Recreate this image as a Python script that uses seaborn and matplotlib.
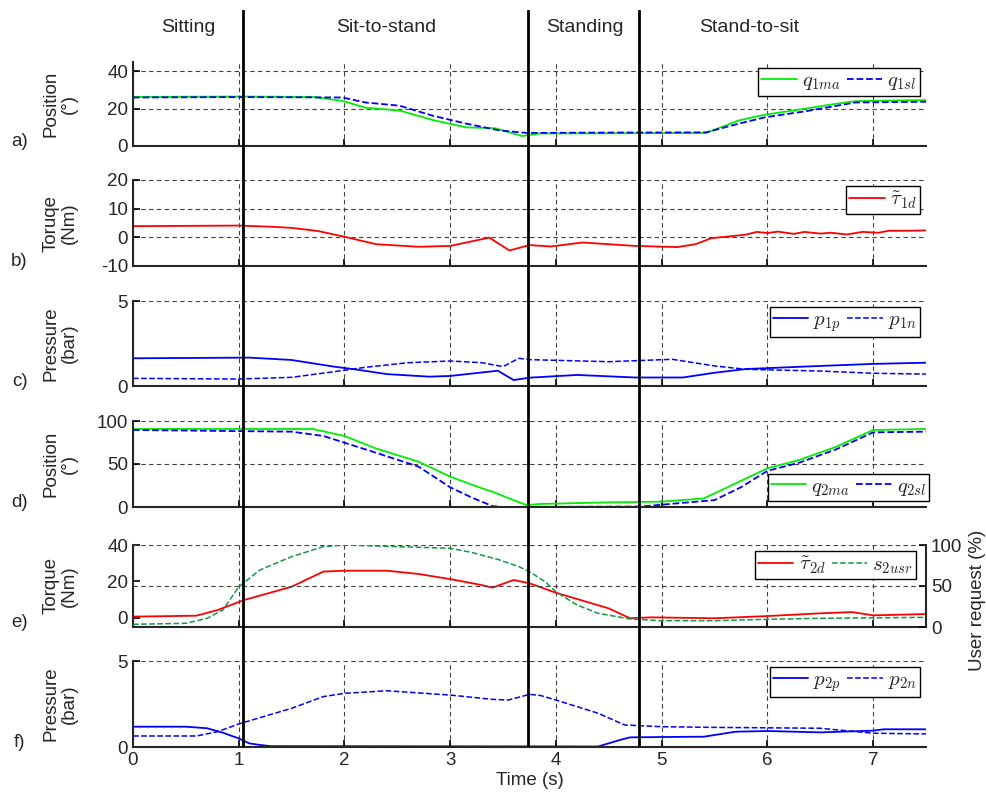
import seaborn as sns
import matplotlib.pyplot as plt
import numpy as np
import pandas as pd

# ---- data ----
phase_bounds = [1.04, 3.74, 4.79]
phase_names = ["Sitting", "Sit-to-stand", "Standing", "Stand-to-sit"]
phase_label_x = [0.52, 2.39, 4.27, 5.83]

q1ma_t = [0, 1.0, 1.7, 1.98, 2.2, 2.52, 2.83, 3.15, 3.43, 3.68, 3.84, 4.5, 5.42, 5.73, 5.98, 6.36, 6.67, 6.83, 7.2, 7.5]
q1ma = [26.3, 26.5, 26.3, 24.2, 20.5, 19, 14, 10, 9.5, 5.3, 6.7, 6.8, 7, 13.7, 16.8, 20, 22.8, 24, 24.4, 24.6]
q1sl_t = [0, 1.0, 1.98, 2.2, 2.52, 2.83, 3.15, 3.46, 3.72, 4.5, 5.42, 5.73, 5.98, 6.36, 6.83, 7.5]
q1sl = [26, 26.2, 26, 23.3, 21.6, 16.3, 12, 8.4, 7, 7.2, 7.3, 12, 15.4, 18.6, 23.3, 23.7]

tau1d_t = [0, 1.0, 1.3, 1.5, 1.75, 2.0, 2.3, 2.7, 3.0, 3.37, 3.56, 3.75, 3.95, 4.25, 4.75, 5.15, 5.32, 5.47,
           5.79, 5.9, 6.0, 6.1, 6.25, 6.35, 6.5, 6.6, 6.75, 6.9, 7.05, 7.15, 7.3, 7.5]
tau1d = [3.9, 4.1, 3.7, 3.3, 2.2, 0.2, -2.4, -3.3, -3, -0.1, -4.6, -2.7, -3.2, -1.8, -3, -3.4, -2.4, -0.3,
         0.9, 1.9, 1.5, 2.0, 1.2, 1.9, 1.3, 1.6, 1.0, 1.9, 1.6, 2.3, 2.3, 2.4]

p1p_t = [0, 1.1, 1.5, 1.9, 2.1, 2.4, 2.8, 3.0, 3.45, 3.6, 3.75, 4.2, 4.75, 5.2, 5.5, 5.8, 6.5, 7.0, 7.5]
p1p = [1.63, 1.67, 1.53, 1.14, 0.98, 0.7, 0.55, 0.59, 0.9, 0.35, 0.49, 0.65, 0.5, 0.5, 0.78, 1.0, 1.18, 1.3, 1.37]
p1n_t = [0, 1.0, 1.5, 1.9, 2.2, 2.6, 3.0, 3.3, 3.5, 3.65, 3.75, 4.5, 5.1, 5.5, 5.8, 6.5, 7.0, 7.5]
p1n = [0.45, 0.41, 0.51, 0.84, 1.1, 1.37, 1.47, 1.37, 1.14, 1.63, 1.55, 1.43, 1.57, 1.18, 0.98, 0.88, 0.75, 0.7]

q2ma_t = [0, 1.7, 2.0, 2.3, 2.7, 3.0, 3.3, 3.4, 3.55, 3.72, 3.85, 4.5, 5.0, 5.4, 5.7, 6.0, 6.3, 6.65, 7.0, 7.5]
q2ma = [90.7, 90.7, 82.6, 68, 52.7, 35.3, 21.7, 17.8, 10.4, 2.3, 3.5, 5.4, 6.2, 10, 27.5, 45, 54.6, 70, 89.5, 90.7]
q2sl_t = [0, 1.5, 1.8, 2.0, 2.3, 2.7, 3.0, 3.2, 3.4, 3.5, 4.8, 5.15, 5.5, 5.75, 6.0, 6.3, 6.65, 7.0, 7.5]
q2sl = [89.5, 87.6, 82.6, 74.8, 63, 47, 22.9, 11.2, 1, 0, 0.5, 4.3, 8, 23, 42, 51.5, 67, 86.8, 87.6]

tau2d_t = [0, 0.6, 0.8, 1.05, 1.5, 1.8, 2.0, 2.4, 2.7, 3.0, 3.3, 3.4, 3.6, 3.75, 4.0, 4.5, 4.7, 4.9, 5.5, 6.0, 6.5, 6.8, 7.0, 7.5]
tau2d = [0.7, 1.2, 4.3, 9.8, 17.1, 25.4, 25.9, 25.9, 24.1, 21.3, 18, 16.6, 20.8, 19, 13.8, 5.2, -0.2, 0.3, -0.2, 1.0, 2.5, 3.2, 1.4, 2.1]
s2usr_t = [0, 0.5, 0.7, 0.85, 1.0, 1.2, 1.5, 1.8, 2.0, 2.5, 3.0, 3.2, 3.45, 3.65, 3.75, 3.9, 4.0, 4.2, 4.4, 4.7, 5.0, 5.5, 6.0, 6.5, 7.5]
s2usr = [3.3, 4.5, 10.6, 20.7, 49, 69.5, 85.8, 98, 100, 98, 96, 91, 82.5, 73.6, 67.5, 55, 43, 26.8, 16.7, 9.8, 7.7, 7.7, 9.4, 10.6, 11.8]

p2p_t = [0, 0.5, 0.7, 0.85, 1.0, 1.1, 1.2, 1.3, 4.4, 4.6, 4.7, 5.0, 5.4, 5.7, 6.0, 6.5, 7.0, 7.1, 7.5]
p2p = [1.18, 1.18, 1.09, 0.83, 0.5, 0.21, 0.12, 0.05, 0.03, 0.4, 0.56, 0.58, 0.6, 0.89, 0.93, 0.85, 0.95, 1.03, 1.03]
p2n_t = [0, 0.6, 0.8, 1.0, 1.5, 1.8, 2.0, 2.4, 3.0, 3.4, 3.55, 3.75, 3.85, 4.0, 4.4, 4.65, 5.0, 5.5, 6.5, 7.0, 7.5]
p2n = [0.64, 0.64, 0.89, 1.34, 2.25, 2.93, 3.12, 3.27, 3.02, 2.77, 2.73, 3.06, 3.0, 2.73, 1.96, 1.28, 1.18, 1.14, 1.09, 0.8, 0.76]

# ---- style ----
sns.set_style("ticks", {"xtick.direction": "in", "ytick.direction": "in"})
plt.rcParams['font.family'] = ['Liberation Sans', 'DejaVu Sans']
plt.rcParams['mathtext.fontset'] = 'cm'
plt.rcParams['axes.linewidth'] = 1.5
plt.rcParams['axes.unicode_minus'] = False

GREEN = '#00ee00'
BLUE = '#0000ff'
RED = '#ff0000'
DGREEN = '#119944'
FS = 13.5

fig = plt.figure(figsize=(9.87, 8), dpi=100)
L, W = 133 / 987, (926 - 133) / 987
# (top px, bottom px) for each panel
rows = [(62, 146), (180, 266), (301, 386), (421, 507), (545, 627), (661, 747)]
axes = [fig.add_axes([L, (800 - b) / 800, W, (b - t) / 800]) for t, b in rows]

grid_kw = dict(color='0.25', linestyle=(0, (4, 3)), linewidth=0.8)
leg_kw = dict(ncol=2, fancybox=False, edgecolor='k', framealpha=1, fontsize=15,
              borderpad=0.15, handlelength=1.7, handletextpad=0.25, columnspacing=0.3,
              borderaxespad=0.3)


def style(ax, ylim, yticks, ylabel, letter):
    ax.set_xlim(0, 7.5)
    ax.set_ylim(*ylim)
    ax.set_yticks(yticks)
    ax.set_xticks(range(8))
    ax.tick_params(labelsize=FS, length=5, width=1.2, color='k')
    sns.despine(ax=ax)
    ax.grid(True, **grid_kw)
    ax.set_ylabel(ylabel, fontsize=FS, linespacing=1.1)
    ax.yaxis.set_label_coords(-0.07, 0.5)
    ax.text(-0.143, 0.05, letter, transform=ax.transAxes, fontsize=FS, ha='center', va='center')
    ax.set_xlabel('')


# a) joint 1 position
ax = axes[0]
sns.lineplot(x=q1ma_t, y=q1ma, ax=ax, color=GREEN, lw=1.3, label=r'$q_{1ma}$')
sns.lineplot(x=q1sl_t, y=q1sl, ax=ax, color=BLUE, lw=1.3, linestyle='--', label=r'$q_{1sl}$')
style(ax, (0, 45), [0, 20, 40], 'Position\n(°)', 'a)')
ax.legend(loc='upper right', **leg_kw)

# b) joint 1 torque
ax = axes[1]
sns.lineplot(x=tau1d_t, y=tau1d, ax=ax, color=RED, lw=1.3, label=r'$\tilde{\tau}_{1d}$')
style(ax, (-10, 20), [-10, 0, 10, 20], 'Toruqe\n(Nm)', 'b)')
ax.legend(loc='upper right', **leg_kw)

# c) joint 1 pressure
ax = axes[2]
sns.lineplot(x=p1p_t, y=p1p, ax=ax, color=BLUE, lw=1.3, label=r'$p_{1p}$')
sns.lineplot(x=p1n_t, y=p1n, ax=ax, color=BLUE, lw=1.1, linestyle='--', label=r'$p_{1n}$')
style(ax, (0, 5), [0, 5], 'Pressure\n(bar)', 'c)')
ax.legend(loc='upper right', **leg_kw)

# d) joint 2 position
ax = axes[3]
sns.lineplot(x=q2ma_t, y=q2ma, ax=ax, color=GREEN, lw=1.3, label=r'$q_{2ma}$')
sns.lineplot(x=q2sl_t, y=q2sl, ax=ax, color=BLUE, lw=1.3, linestyle='--', label=r'$q_{2sl}$')
style(ax, (0, 100), [0, 50, 100], 'Position\n(°)', 'd)')
ax.legend(loc='lower right', bbox_to_anchor=(1.012, 0.0), **leg_kw)

# e) joint 2 torque + user request
ax = axes[4]
sns.lineplot(x=tau2d_t, y=tau2d, ax=ax, color=RED, lw=1.3, label=r'$\tilde{\tau}_{2d}$')
style(ax, (-5, 40), [0, 20, 40], 'Torque\n(Nm)', 'e)')
ax.grid(False, axis='y')
ax2 = ax.twinx()
sns.lineplot(x=s2usr_t, y=s2usr, ax=ax2, color=DGREEN, lw=1.1, linestyle='--', label=r'$s_{2usr}$')
ax2.set_ylim(0, 100)
ax2.set_xlim(0, 7.5)
ax2.set_yticks([0, 50, 100])
ax2.tick_params(labelsize=FS, length=5, width=1.2, color='k')
for s in ['top', 'left', 'bottom']:
    ax2.spines[s].set_visible(False)
ax2.grid(True, axis='y', **grid_kw)
ax2.set_ylabel('User request (%)', fontsize=FS)
ax2.yaxis.set_label_coords(1.054, 0.33)
ax.get_legend().remove()
h1, l1 = ax.get_legend_handles_labels()
h2, l2 = ax2.get_legend_handles_labels()
ax2.legend(h1 + h2, l1 + l2, loc='upper right', bbox_to_anchor=(0.995, 1.0), **leg_kw)

# f) joint 2 pressure
ax = axes[5]
sns.lineplot(x=p2p_t, y=p2p, ax=ax, color=BLUE, lw=1.3, label=r'$p_{2p}$')
sns.lineplot(x=p2n_t, y=p2n, ax=ax, color=BLUE, lw=1.1, linestyle='--', label=r'$p_{2n}$')
style(ax, (0, 5), [0, 5], 'Pressure\n(bar)', 'f)')
ax.legend(loc='upper right', **leg_kw)
ax.set_xlabel('Time (s)', fontsize=FS, labelpad=2)

for a in axes[:5]:
    a.tick_params(labelbottom=False)

# phase separators across all panels
ov = fig.add_axes([L, (800 - 747) / 800, W, (747 - 10) / 800])
ov.set_xlim(0, 7.5)
ov.set_ylim(0, 1)
ov.axis('off')
ov.patch.set_alpha(0)
for xb in phase_bounds:
    ov.axvline(xb, color='k', lw=2)
for xl, name in zip(phase_label_x, phase_names):
    ov.text(xl, (747 - 27) / 737, name, ha='center', va='center', fontsize=FS + 0.5)

plt.savefig('out.png', dpi=100)
